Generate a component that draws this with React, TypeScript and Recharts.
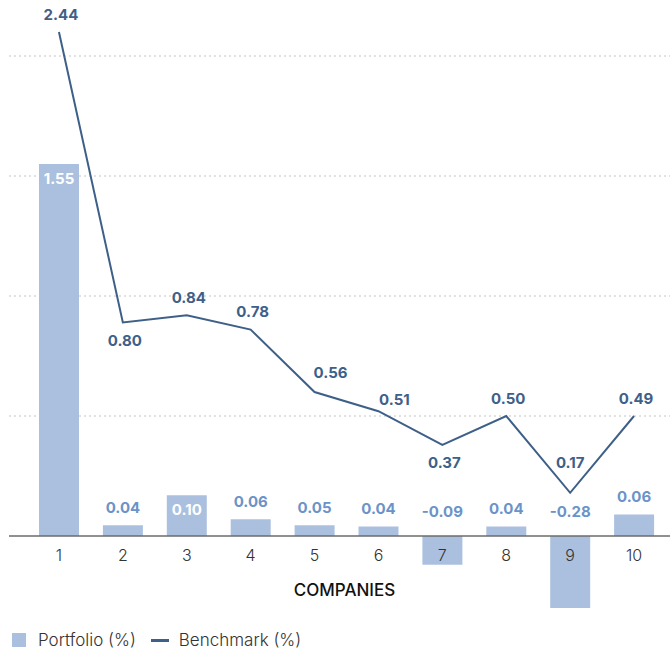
import {
  ComposedChart,
  Bar,
  Line,
  XAxis,
  YAxis,
  CartesianGrid,
  ReferenceLine,
  LabelList,
  Legend,
} from "recharts";

const companies = ["1", "2", "3", "4", "5", "6", "7", "8", "9", "10"];

// heights as drawn in the picture
const portfolio = [1.55, 0.045, 0.17, 0.07, 0.045, 0.04, -0.12, 0.04, -0.3, 0.09];
const benchmark = [2.1, 0.89, 0.92, 0.86, 0.6, 0.52, 0.38, 0.5, 0.18, 0.5];

// printed values
const portfolioLabels = ["1.55", "0.04", "0.10", "0.06", "0.05", "0.04", "-0.09", "0.04", "-0.28", "0.06"];
const benchmarkLabels = ["2.44", "0.80", "0.84", "0.78", "0.56", "0.51", "0.37", "0.50", "0.17", "0.49"];

const yTicks = [0.5, 1, 1.5, 2];

const data = companies.map((c, i) => ({
  company: c,
  portfolio: portfolio[i],
  benchmark: benchmark[i],
  pLabel: portfolioLabels[i],
  bLabel: benchmarkLabels[i],
}));

const BAR_COLOR = "#abc0df";
const BAR_TEXT = "#6b93c8";
const LINE_COLOR = "#3e6088";
const FONT = "Inter, 'Noto Sans', sans-serif";

const INSIDE = new Set([0, 2]);
const BELOW = new Set([1, 6]);
// a few line labels are nudged off the line: index -> [dx, gap]
const NUDGE: Record<number, [number, number]> = { 4: [16, 20], 5: [16, 12], 8: [0, 30] };

function BarLabel(props: any) {
  const { x, y, width, height, index, value } = props;
  const cx = x + width / 2;
  const base = y + height;
  let ty: number;
  let fill = BAR_TEXT;
  if (INSIDE.has(index)) {
    ty = Math.min(y, base) + 14;
    fill = "#ffffff";
  } else if (portfolio[index] < 0) {
    ty = base - 25;
  } else {
    ty = y - 18;
  }
  return (
    <text
      x={cx}
      y={ty}
      textAnchor="middle"
      dominantBaseline="central"
      fill={fill}
      fontSize={15}
      fontWeight={700}
      fontFamily={FONT}
    >
      {value}
    </text>
  );
}

function LineLabel(props: any) {
  const { x, y, index, value } = props;
  const [dx, gap] = NUDGE[index] ?? [2, 18];
  const ty = BELOW.has(index) ? y + gap : y - gap;
  return (
    <text
      x={x + dx}
      y={ty}
      textAnchor="middle"
      dominantBaseline="central"
      fill={LINE_COLOR}
      fontSize={15}
      fontWeight={700}
      fontFamily={FONT}
    >
      {value}
    </text>
  );
}

function LegendContent() {
  return (
    <div
      style={{
        display: "flex",
        alignItems: "center",
        height: 20,
        paddingLeft: 3,
        fontFamily: FONT,
        fontSize: 17,
        fontWeight: 300,
        color: "#333",
      }}
    >
      <span style={{ width: 14, height: 14, background: BAR_COLOR, display: "inline-block" }} />
      <span style={{ marginLeft: 12 }}>Portfolio (%)</span>
      <span
        style={{
          width: 18,
          height: 3,
          background: LINE_COLOR,
          display: "inline-block",
          marginLeft: 15,
        }}
      />
      <span style={{ marginLeft: 10 }}>Benchmark (%)</span>
    </div>
  );
}

export default function App() {
  return (
    <div style={{ position: "absolute", left: 0, top: 0, background: "#fff" }}>
      <ComposedChart
        width={670}
        height={650}
        data={data}
        margin={{ top: 32, right: 0, left: 9, bottom: 0 }}
        style={{ fontFamily: FONT }}
      >
        <CartesianGrid
          vertical={false}
          horizontalValues={yTicks}
          stroke="#c4c4c4"
          strokeDasharray="2 3"
        />
        <YAxis hide domain={[-0.3, 2.1]} ticks={yTicks} />
        <Bar
          dataKey="portfolio"
          fill={BAR_COLOR}
          barSize={40}
          isAnimationActive={false}
          legendType="square"
          name="Portfolio (%)"
        >
          <LabelList dataKey="pLabel" content={BarLabel} />
        </Bar>
        <ReferenceLine
          y={0}
          stroke="#6b6b6b"
          strokeWidth={1.5}
          label={{
            value: "COMPANIES",
            position: "bottom",
            offset: 48,
            fill: "#111",
            fontSize: 17,
            fontWeight: 500,
            dx: 5,
          }}
        />
        <Line
          dataKey="benchmark"
          stroke={LINE_COLOR}
          strokeWidth={2}
          dot={false}
          activeDot={false}
          isAnimationActive={false}
          name="Benchmark (%)"
        >
          <LabelList dataKey="bLabel" content={LineLabel} />
        </Line>
        <XAxis
          dataKey="company"
          height={22}
          axisLine={false}
          tickLine={false}
          interval={0}
          padding={{ left: 18, right: 4 }}
          tick={{ fontSize: 16, fill: "#333", fontWeight: 300, dy: -66 }}
        />
        <Legend verticalAlign="bottom" align="left" content={LegendContent} />
      </ComposedChart>
    </div>
  );
}
